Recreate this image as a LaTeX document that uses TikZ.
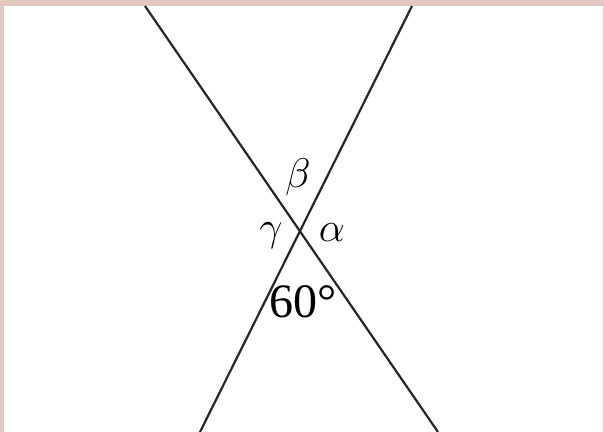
\documentclass[tikz,border=0pt]{standalone}
\usepackage{fontspec}
\newfontfamily\figfont{Liberation Serif}
\usetikzlibrary{calc}

\definecolor{framepink}{HTML}{E2C8C0}

\tikzset{
  crossline/.style={line width=1.1pt, black!85},
  anglabel/.style={inner sep=0pt, font=\fontsize{21}{21}\selectfont},
  deglabel/.style={inner sep=0pt, font=\figfont\fontsize{24}{24}\selectfont}
}

\begin{document}
\begin{tikzpicture}[x=0.5pt,y=-0.5pt]
  % frame
  \fill[framepink] (0,0) rectangle (604,432);
  \fill[white] (4,6) rectangle (603,432);
  \useasboundingbox (0,0) rectangle (604,432);

  % the two crossing lines
  \coordinate (topL) at (145,6);
  \coordinate (botR) at (438,432);
  \coordinate (topR) at (412,6);
  \coordinate (botL) at (200,432);
  \draw[crossline] (topL) -- (botR);
  \draw[crossline] (topR) -- (botL);

  % angle labels
  \node[anglabel] (beta) at (298,177) {$\beta$};
  \node[anglabel] (gamma) at (271,236) {$\gamma$};
  \node[anglabel] (alpha) at (332,233) {$\alpha$};
  \node[deglabel] (sixty) at (303,302) {60°};
\end{tikzpicture}
\end{document}
